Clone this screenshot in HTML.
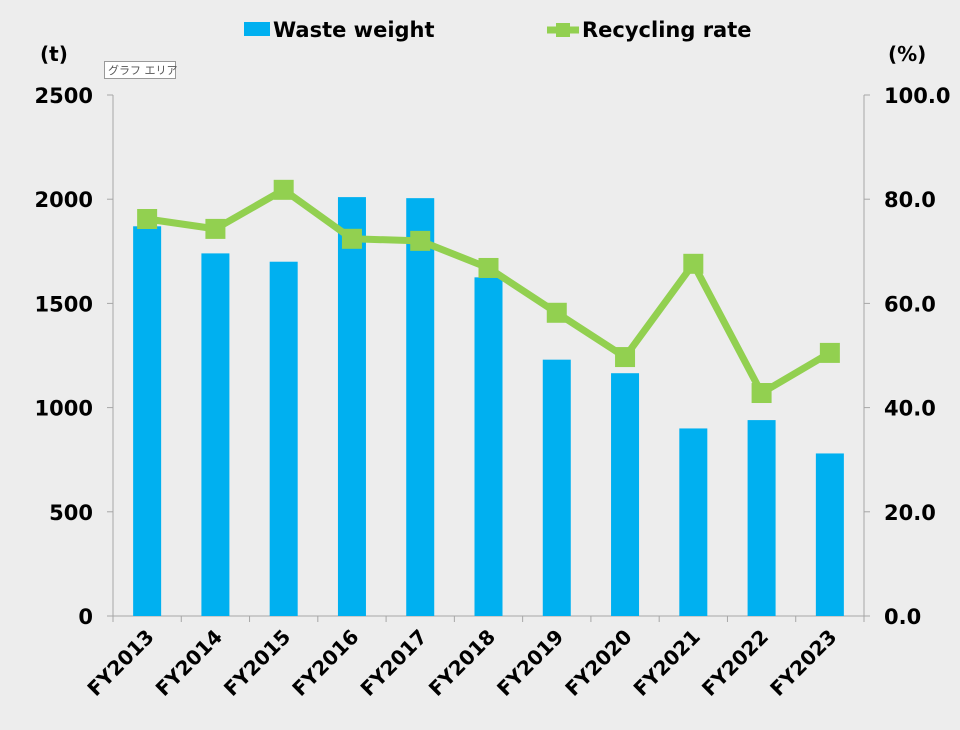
<!DOCTYPE html>
<html><head><meta charset="utf-8"><style>
body{margin:0;background:#ededed;}
svg{display:block;font-family:"DejaVu Sans","Noto Sans CJK JP",sans-serif;}
</style></head><body>
<svg id="c" width="960" height="730" viewBox="0 0 960 730">
<rect x="0" y="0" width="960" height="730" fill="#ededed"/>
<g>
<rect x="244" y="22" width="26" height="14" fill="#00b0f0"/>
<text x="273" y="37" font-size="21" font-weight="bold" fill="#000">Waste weight</text>
<line x1="547" y1="30" x2="579" y2="30" stroke="#92d050" stroke-width="7"/>
<rect x="556" y="23" width="14" height="14" fill="#92d050"/>
<text x="582" y="37" font-size="21" font-weight="bold" fill="#000">Recycling rate</text>
</g>
<text x="40" y="61" font-size="20" font-weight="bold">(t)</text>
<text x="888" y="61" font-size="20" font-weight="bold">(%)</text>
<g>
<rect x="104.5" y="61.5" width="71" height="17" fill="#fff" stroke="#999"/>
<text x="108" y="74" font-size="11" fill="#555">グラフ エリア</text>
</g>
<g id="axes"></g>
<g id="bars"></g>
<g id="line"></g>
</svg>
<script>
const categories=["FY2013","FY2014","FY2015","FY2016","FY2017","FY2018","FY2019","FY2020","FY2021","FY2022","FY2023"];
const wasteWeight=[1870,1740,1700,2010,2005,1625,1230,1165,900,940,780];
const recyclingRate=[76.2,74.3,81.8,72.4,72.0,66.8,58.2,49.7,67.6,42.8,50.5];
const leftTicks=[0,500,1000,1500,2000,2500];
const rightTicks=["0.0","20.0","40.0","60.0","80.0","100.0"];
const X0=113,X1=864,Y0=616,Y1=95;
const NS="http://www.w3.org/2000/svg";
const band=(X1-X0)/categories.length;
const xC=i=>X0+band*(i+0.5);
const yL=v=>Y0-(v/2500)*(Y0-Y1);
const yR=v=>Y0-(v/100)*(Y0-Y1);
function mk(tag,attrs,parent,text){const e=document.createElementNS(NS,tag);for(const k in attrs)e.setAttribute(k,attrs[k]);if(text!==undefined)e.textContent=text;parent.appendChild(e);return e;}
const axes=document.getElementById('axes');
const ax1=mk('line',{x1:X0,y1:Y1,x2:X0,y2:Y0,stroke:'#a6a6a6','stroke-width':1},axes);


const ax2=mk('line',{x1:X1,y1:Y1,x2:X1,y2:Y0,stroke:'#a6a6a6','stroke-width':1},axes);


const ax3=mk('line',{x1:X0,y1:Y0,x2:X1,y2:Y0,stroke:'#a6a6a6','stroke-width':1},axes);


leftTicks.forEach((v,i)=>{
 const y=yL(v);
 const t=mk('line',{x1:X0-6,y1:y,x2:X0,y2:y,stroke:'#a6a6a6'},axes);
 
 
 const l=mk('text',{x:93,y:y+8,'text-anchor':'end','font-size':21,'font-weight':'bold'},axes,String(v));
 
 
 const t2=mk('line',{x1:X1,y1:y,x2:X1+6,y2:y,stroke:'#a6a6a6'},axes);
 
 
 const l2=mk('text',{x:884,y:y+8,'font-size':21,'font-weight':'bold'},axes,rightTicks[i]);
 
 
});
for(let i=0;i<=categories.length;i++){
 const x=X0+band*i;
 const t=mk('line',{x1:x,y1:Y0,x2:x,y2:Y0+6,stroke:'#a6a6a6'},axes);
 
 
}
categories.forEach((c,i)=>{
 const x=xC(i)+8,y=Y0+22;
 const l=mk('text',{x:x,y:y,'text-anchor':'end','font-size':20,'font-weight':'bold',transform:`rotate(-45 ${x} ${y})`},axes,c);
 
 
});
const bars=document.getElementById('bars');
wasteWeight.forEach((v,i)=>{
 const bw=28;
 const r=mk('rect',{x:xC(i)-bw/2,y:yL(v),width:bw,height:Y0-yL(v),fill:'#00b0f0'},bars);
 
 
});
const lg=document.getElementById('line');
const pts=recyclingRate.map((v,i)=>xC(i)+','+yR(v)).join(' ');
const pl=mk('polyline',{points:pts,fill:'none',stroke:'#92d050','stroke-width':7,'stroke-linejoin':'round'},lg);


recyclingRate.forEach((v,i)=>{
 const m=mk('rect',{x:xC(i)-10,y:yR(v)-10,width:20,height:20,fill:'#92d050'},lg);
 
 
});
</script>
</body></html>
